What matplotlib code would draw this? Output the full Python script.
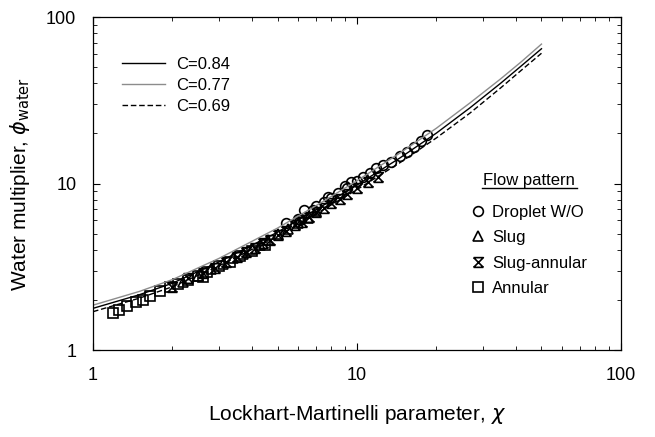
import numpy as np
import matplotlib
matplotlib.use('Agg')
import matplotlib.pyplot as plt
from matplotlib.path import Path
from matplotlib.lines import Line2D

plt.rcParams['font.family'] = ['Liberation Sans', 'DejaVu Sans']

# correlation curves
X_line = [1, 1.5, 2, 3, 5, 7.24, 10, 14.5, 20, 26.8, 35, 42, 50]
phi_084 = [1.78, 2.15, 2.52, 3.38, 5.1, 7.2, 9.8, 14.2, 20.1, 28.5, 40, 51, 64.5]
phi_077 = [1.86, 2.25, 2.65, 3.55, 5.4, 7.6, 10.4, 15.2, 21.5, 30.5, 42.5, 54, 68.8]
phi_069 = [1.70, 2.05, 2.4, 3.2, 4.8, 6.78, 9.2, 13.3, 18.8, 26.5, 37.5, 48, 60.6]

# measured points by flow pattern
droplet_x = [5.4, 6.0, 6.1, 6.3, 6.8, 7.0, 7.5, 7.8, 8.0, 8.5, 9.0, 9.2, 9.5, 10.0,
             10.5, 11.2, 11.8, 12.5, 13.5, 14.5, 15.5, 16.5, 17.5, 18.5]
droplet_y = [5.8, 6.1, 6.0, 6.9, 6.9, 7.3, 7.8, 8.3, 8.2, 8.8, 9.6, 9.4, 10.2, 10.3,
             10.9, 11.6, 12.4, 12.9, 13.5, 14.6, 15.5, 16.6, 18.0, 19.5]
slug_x = [2.2, 2.5, 2.8, 3.1, 3.4, 3.7, 4.0, 4.3, 4.6, 5.0, 5.5, 6.0, 6.5, 7.0]
slug_y = [2.55, 2.8, 3.05, 3.3, 3.55, 3.8, 4.05, 4.3, 4.55, 4.95, 5.3, 5.8, 6.2, 6.8]
slugann_x = [2.0, 2.3, 2.6, 2.9, 3.2, 3.5, 3.8, 4.1, 4.4, 4.7, 5.0, 5.4, 5.8, 6.2,
             6.6, 7.0, 7.5, 8.0, 8.6, 9.2, 10, 11, 12]
slugann_y = [2.4, 2.7, 2.9, 3.1, 3.4, 3.6, 3.9, 4.1, 4.4, 4.6, 4.9, 5.2, 5.6, 5.9,
             6.3, 6.7, 7.1, 7.6, 8.1, 8.7, 9.4, 10.2, 11.0]
annular_x = [1.19, 1.25, 1.35, 1.45, 1.55, 1.65, 1.8, 1.95, 2.1, 2.3, 2.5, 2.6, 2.7,
             3.0, 3.3, 3.6, 4.0, 4.5]
annular_y = [1.67, 1.75, 1.85, 1.95, 2.0, 2.1, 2.25, 2.4, 2.5, 2.65, 2.8, 2.74, 2.95,
             3.2, 3.4, 3.65, 3.95, 4.3]

# X with top and bottom bars
hourglass = Path([(-1, 1), (1, -1), (-1, -1), (1, 1), (-1, 1), (-1, -1), (1, -1)],
                 [Path.MOVETO, Path.LINETO, Path.MOVETO, Path.LINETO, Path.LINETO,
                  Path.MOVETO, Path.LINETO])

fig = plt.figure(figsize=(6.55, 4.37), dpi=100)
ax = fig.add_axes([0.142, 0.199, 0.806, 0.762])

mk = dict(linestyle='none', markerfacecolor='none', markeredgecolor='black',
          markeredgewidth=1.2, markersize=7)
ax.plot(annular_x, annular_y, marker='s', **mk)
ax.plot(slug_x, slug_y, marker='^', **mk)
ax.plot(slugann_x, slugann_y, marker=hourglass, **mk)
ax.plot(droplet_x, droplet_y, marker='o', **mk)

l1, = ax.plot(X_line, phi_084, color='black', lw=1.0)
l2, = ax.plot(X_line, phi_077, color='#8c8c8c', lw=1.0)
l3, = ax.plot(X_line, phi_069, color='black', lw=1.0, ls=(0, (4, 2)))

ax.set_xscale('log')
ax.set_yscale('log')
ax.set_xlim(1, 100)
ax.set_ylim(1, 100)
ax.set_xticks([1, 10, 100])
ax.set_xticklabels(['1', '10', '100'])
ax.set_yticks([1, 10, 100])
ax.set_yticklabels(['1', '10', '100'])
ax.tick_params(which='both', direction='in', top=True, right=True, labelsize=13)
ax.tick_params(which='major', length=5, pad=12)
ax.tick_params(which='minor', length=3)
for s in ax.spines.values():
    s.set_linewidth(0.9)

ax.set_xlabel('Lockhart-Martinelli parameter, $\\chi$', fontsize=15, labelpad=14)
ax.set_ylabel('Water multiplier, $\\phi_{\\mathrm{water}}$', fontsize=15, labelpad=10)

leg1 = ax.legend([l1, l2, l3], ['C=0.84', 'C=0.77', 'C=0.69'], loc='upper left',
                 bbox_to_anchor=(0.042, 0.90), frameon=False, fontsize=12,
                 handlelength=2.6, handletextpad=0.66, labelspacing=0.35,
                 borderaxespad=0)
ax.add_artist(leg1)

hs = [Line2D([], [], marker=m, **mk) for m in ['o', '^', hourglass, 's']]
ax.legend(hs, ['Droplet W/O', 'Slug', 'Slug-annular', 'Annular'], loc='upper left',
          bbox_to_anchor=(0.707, 0.456), frameon=False, fontsize=12,
          handlelength=0.6, handletextpad=0.54, labelspacing=0.62,
          borderaxespad=0)
ax.text(0.826, 0.51, 'Flow pattern', transform=ax.transAxes, fontsize=12,
        ha='center', va='center')
ax.plot([0.737, 0.917], [0.486, 0.486], transform=ax.transAxes, color='black', lw=1.0)

fig.savefig('out.png', dpi=100)
